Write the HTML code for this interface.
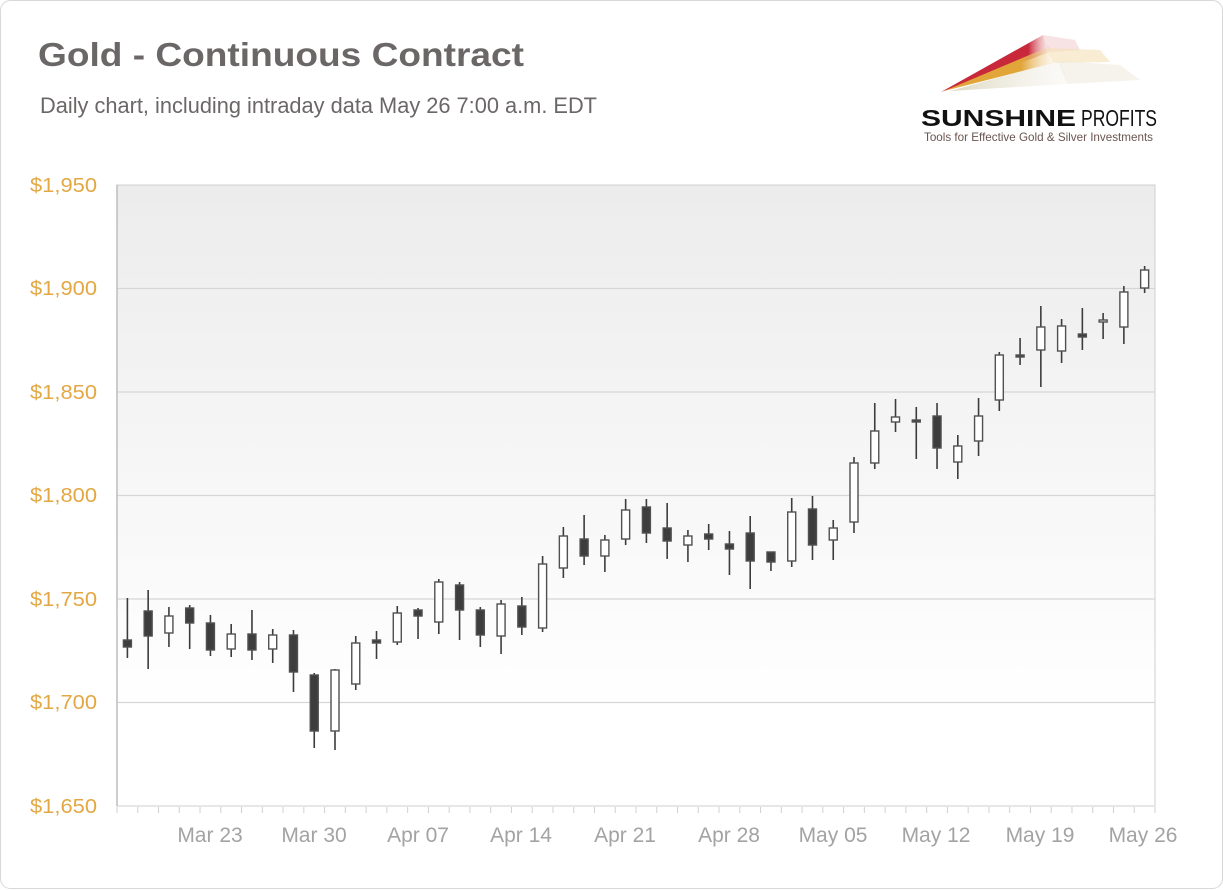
<!DOCTYPE html>
<html><head><meta charset="utf-8"><style>
html,body{margin:0;padding:0;background:#fff;}
svg{display:block;font-family:"Liberation Sans",sans-serif;}
</style></head><body>
<svg width="1223" height="890" viewBox="0 0 1223 890" xmlns="http://www.w3.org/2000/svg">
<defs>
<linearGradient id="bg" x1="0" y1="0" x2="0" y2="1">
<stop offset="0" stop-color="#ececec"/><stop offset="0.85" stop-color="#ffffff"/><stop offset="1" stop-color="#ffffff"/>
</linearGradient>
<linearGradient id="r1" x1="0" y1="0" x2="1" y2="0"><stop offset="0" stop-color="#c8283a"/><stop offset="0.8" stop-color="#c8283a"/><stop offset="1" stop-color="#f3c9c9" stop-opacity="0.3"/></linearGradient>
<linearGradient id="r2" x1="0" y1="0" x2="1" y2="0"><stop offset="0" stop-color="#e1a53a"/><stop offset="0.7" stop-color="#e1a53a"/><stop offset="1" stop-color="#f6e4c0" stop-opacity="0.3"/></linearGradient>
<linearGradient id="r3" x1="0" y1="0" x2="1" y2="0"><stop offset="0" stop-color="#ddd8c2"/><stop offset="1" stop-color="#f2efe6" stop-opacity="0.3"/></linearGradient>
</defs>
<rect x="0.5" y="0.5" width="1222" height="888" rx="10" fill="#fff" stroke="#d8d8d8"/>
<text x="38" y="66" font-size="33" font-weight="bold" fill="#6b6767" textLength="486" lengthAdjust="spacingAndGlyphs">Gold - Continuous Contract</text>
<text x="40" y="113" font-size="22" fill="#6b6767" textLength="557" lengthAdjust="spacingAndGlyphs">Daily chart, including intraday data May 26 7:00 a.m. EDT</text>
<!-- logo -->
<polygon points="941,92 1043,35 1046,45 1050,47 1050,52" fill="url(#r1)"/>
<polygon points="1043,35 1075,40 1080,50 1050,52 1046,45" fill="#f0c8c8" opacity="0.5"/>
<polygon points="944,91 1046,48 1052,58 1054,63" fill="url(#r2)"/>
<polygon points="1046,48 1100,50 1110,62 1054,63" fill="#f4dfb5" opacity="0.6"/>
<polygon points="950,91 1058,61 1065,71 1067,84" fill="url(#r3)"/>
<polygon points="1058,61 1120,65 1140,80 1067,84" fill="#efebdf" opacity="0.6"/>
<text x="921" y="126" font-size="23" font-weight="bold" fill="#111" textLength="155" lengthAdjust="spacingAndGlyphs">SUNSHINE</text>
<text x="1081" y="126" font-size="23" fill="#111" textLength="76" lengthAdjust="spacingAndGlyphs">PROFITS</text>
<text x="924" y="141" font-size="12" fill="#6a5550" textLength="229" lengthAdjust="spacingAndGlyphs">Tools for Effective Gold &amp; Silver Investments</text>
<!-- plot -->
<rect x="117" y="185" width="1038" height="621" fill="url(#bg)" stroke="#cfcfcf"/>
<g stroke="#d6d6d6" stroke-width="1.2">
<line x1="117" y1="288.5" x2="1155" y2="288.5"/><line x1="117" y1="392" x2="1155" y2="392"/>
<line x1="117" y1="495.5" x2="1155" y2="495.5"/><line x1="117" y1="599" x2="1155" y2="599"/>
<line x1="117" y1="702.5" x2="1155" y2="702.5"/>
</g>
<line x1="117" y1="185" x2="117" y2="806" stroke="#bdbdbd" stroke-width="1.5"/>
<g stroke="#d0d0d0" stroke-width="1" id="ticks"></g>
<g font-size="20" fill="#e3a843" text-anchor="end">
<text x="97" y="192" textLength="67" lengthAdjust="spacingAndGlyphs">$1,950</text>
<text x="97" y="295" textLength="67" lengthAdjust="spacingAndGlyphs">$1,900</text>
<text x="97" y="399" textLength="67" lengthAdjust="spacingAndGlyphs">$1,850</text>
<text x="97" y="502" textLength="67" lengthAdjust="spacingAndGlyphs">$1,800</text>
<text x="97" y="606" textLength="67" lengthAdjust="spacingAndGlyphs">$1,750</text>
<text x="97" y="709" textLength="67" lengthAdjust="spacingAndGlyphs">$1,700</text>
<text x="97" y="813" textLength="67" lengthAdjust="spacingAndGlyphs">$1,650</text>
</g>
<g font-size="21" fill="#a3a3a3" text-anchor="middle">
<text x="210" y="842">Mar 23</text><text x="314" y="842">Mar 30</text><text x="418" y="842">Apr 07</text>
<text x="521" y="842">Apr 14</text><text x="625" y="842">Apr 21</text><text x="729" y="842">Apr 28</text>
<text x="833" y="842">May 05</text><text x="936" y="842">May 12</text><text x="1040" y="842">May 19</text>
<text x="1143" y="842">May 26</text>
</g>
<g id="candles"></g>
</svg>
<script>
var t=document.getElementById('ticks'),ns='http://www.w3.org/2000/svg';
for(var i=0;i<=50;i++){var x=117+20.76*i;var l=document.createElementNS(ns,'line');l.setAttribute('x1',x);l.setAttribute('x2',x);l.setAttribute('y1',807);l.setAttribute('y2',813);t.appendChild(l);}
var d=[[598,658,640,647,1],[590,669,611,636,1],[607,647,616,633,0],[605,649,608,623,1],[615,656,623,650,1],[624,657,634,649,0],[610,660,634,650,1],[629,663,635,649,0],[630,692,635,672,1],[673,748,675,731,1],[669,750,670,731,0],[636,690,643,684,0],[631,659,640,643,1],[606,645,613,642,0],[608,639,610,616,1],[579,634,582,622,0],[582,640,585,610,1],[607,647,610,635,1],[600,654,604,636,0],[597,635,606,627,1],[556,632,564,628,0],[527,578,536,568,0],[515,565,539,556,1],[535,572,540,556,0],[499,545,510,539,0],[499,543,507,533,1],[503,559,528,541,1],[530,562,536,545,0],[524,550,534,539,1],[531,575,544,549,1],[516,589,533,561,1],[552,571,552,562,1],[498,567,512,561,0],[496,560,509,545,1],[520,560,528,540,0],[457,533,463,522,0],[403,469,431,463,0],[399,432,417,422,0],[407,459,420,422,1],[403,469,416,448,1],[435,479,446,462,0],[398,456,416,441,0],[352,411,355,400,0],[338,365,355,357,1],[306,387,327,350,0],[319,363,326,351,0],[308,350,334,337,1],[313,339,320,322,0],[286,344,292,327,0],[266,293,270,288,0]];
var g=document.getElementById('candles');
d.forEach(function(c,i){var x=127.4+20.76*i;
var l=document.createElementNS(ns,'line');l.setAttribute('x1',x);l.setAttribute('x2',x);l.setAttribute('y1',c[0]);l.setAttribute('y2',c[1]);l.setAttribute('stroke','#3c3c3c');l.setAttribute('stroke-width','1.6');g.appendChild(l);
var r=document.createElementNS(ns,'rect');r.setAttribute('x',x-4);r.setAttribute('width',8);r.setAttribute('y',c[2]);r.setAttribute('height',Math.max(2,c[3]-c[2]));r.setAttribute('fill',c[4]?'#3d3d3d':'#fff');r.setAttribute('stroke','#505050');r.setAttribute('stroke-width','1.4');g.appendChild(r);});
</script>
</body></html>
